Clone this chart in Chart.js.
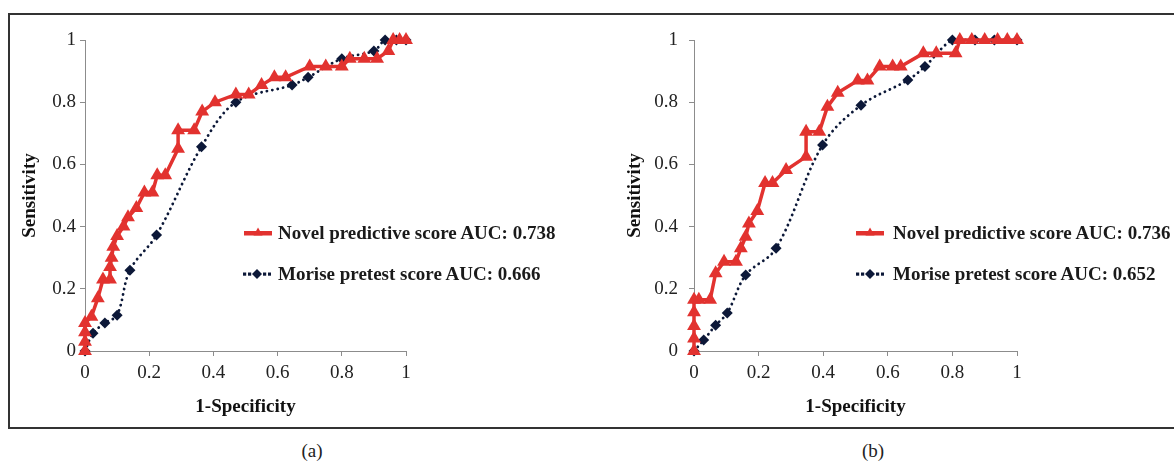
<!DOCTYPE html>
<html>
<head>
<meta charset="utf-8">
<script src="https://cdn.jsdelivr.net/npm/chart.js@4.4.1/dist/chart.umd.min.js"></script>
<style>
  body { margin: 0; background: #fff; font-family: "Liberation Serif", serif; }
  #wrap { position: relative; width: 1174px; height: 462px; overflow: hidden; }
  #frame { position: absolute; left: 8px; top: 13px; width: 1200px; height: 412px; border: 2px solid #333; }
  canvas { position: absolute; top: 0; }
  .cap { position: absolute; top: 440px; font-size: 19px; color: #222; width: 40px; text-align: center; margin-left: -20px; }
  .leg { position: absolute; font-weight: bold; font-size: 19px; line-height: 22px; color: #1a1a1a; white-space: nowrap; }
  .smp { position: absolute; width: 28px; height: 14px; }
</style>
</head>
<body>
<div id="wrap">
  <div id="frame"></div>
  <canvas id="chartA" width="580" height="440" style="left:0px"></canvas>
  <canvas id="chartB" width="564" height="440" style="left:610px"></canvas>

  <canvas class="smp" id="smpA1" width="28" height="14" style="left:244px;top:226px"></canvas>
  <div class="leg" style="left:278px;top:222px">Novel predictive score AUC: 0.738</div>
  <canvas class="smp" id="smpA2" width="28" height="14" style="left:243px;top:267px"></canvas>
  <div class="leg" style="left:278px;top:263px">Morise pretest score AUC: 0.666</div>

  <canvas class="smp" id="smpB1" width="28" height="14" style="left:856px;top:226px"></canvas>
  <div class="leg" style="left:893px;top:222px">Novel predictive score AUC: 0.736</div>
  <canvas class="smp" id="smpB2" width="28" height="14" style="left:856px;top:267px"></canvas>
  <div class="leg" style="left:893px;top:263px">Morise pretest score AUC: 0.652</div>

  <div class="cap" style="left:312px">(a)</div>
  <div class="cap" style="left:873px">(b)</div>
</div>

<script>
// ---- data ----
const ticks = [0, 0.2, 0.4, 0.6, 0.8, 1];

// panel (a)
const novelA_x = [0, 0, 0, 0, 0.02, 0.04, 0.056, 0.078, 0.078, 0.083, 0.088, 0.10, 0.12, 0.134, 0.16, 0.185, 0.21, 0.225, 0.25, 0.29, 0.29, 0.34, 0.365, 0.405, 0.47, 0.51, 0.55, 0.59, 0.625, 0.70, 0.75, 0.80, 0.825, 0.87, 0.91, 0.945, 0.96, 0.98, 1];
const novelA_y = [0, 0.03, 0.06, 0.09, 0.11, 0.17, 0.23, 0.23, 0.27, 0.30, 0.335, 0.37, 0.40, 0.43, 0.46, 0.51, 0.51, 0.565, 0.565, 0.65, 0.71, 0.71, 0.77, 0.80, 0.825, 0.825, 0.855, 0.88, 0.88, 0.915, 0.915, 0.915, 0.94, 0.94, 0.94, 0.965, 1, 1, 1];
const moriseA_x = [0, 0.025, 0.062, 0.10, 0.14, 0.223, 0.363, 0.47, 0.645, 0.695, 0.80, 0.90, 0.935, 0.97, 1];
const moriseA_y = [0, 0.057, 0.09, 0.115, 0.26, 0.373, 0.657, 0.80, 0.855, 0.88, 0.94, 0.965, 1, 1, 1];

// panel (b)
const novelB_x = [0, 0, 0, 0, 0, 0.015, 0.05, 0.067, 0.093, 0.13, 0.145, 0.16, 0.17, 0.196, 0.22, 0.243, 0.285, 0.347, 0.347, 0.388, 0.413, 0.445, 0.507, 0.537, 0.575, 0.615, 0.64, 0.71, 0.75, 0.81, 0.823, 0.86, 0.90, 0.94, 0.97, 1];
const novelB_y = [0, 0.04, 0.08, 0.125, 0.165, 0.165, 0.165, 0.25, 0.287, 0.287, 0.33, 0.367, 0.41, 0.45, 0.54, 0.54, 0.582, 0.625, 0.705, 0.705, 0.785, 0.83, 0.87, 0.87, 0.915, 0.915, 0.915, 0.957, 0.957, 0.957, 1, 1, 1, 1, 1, 1];
const moriseB_x = [0, 0.03, 0.067, 0.103, 0.16, 0.254, 0.398, 0.517, 0.662, 0.715, 0.80, 0.87, 0.93, 1];
const moriseB_y = [0, 0.035, 0.083, 0.122, 0.244, 0.33, 0.662, 0.79, 0.871, 0.915, 1, 1, 1, 1];

const RED = '#e2322f';
const NAVY = '#0c1838';
const AXIS = '#8c8c8c';
const FONT = '"Liberation Serif", "Times New Roman", serif';

function zip(xs, ys) {
    return xs.map((x, i) => ({ x: x, y: ys[i] }));
}

function novelSet(xs, ys) {
    return {
        data: zip(xs, ys),
        borderColor: RED,
        backgroundColor: RED,
        borderWidth: 3.5,
        pointStyle: 'triangle',
        pointRadius: 8,
        pointBorderWidth: 0,
        tension: 0,
        order: 1
    };
}

function moriseSet(xs, ys) {
    return {
        data: zip(xs, ys),
        borderColor: NAVY,
        backgroundColor: NAVY,
        borderWidth: 2.8,
        borderDash: [0.1, 5.4],
        borderCapStyle: 'round',
        pointStyle: 'rectRot',
        pointRadius: 5.5,
        pointBorderWidth: 0,
        tension: 0.35,
        order: 2
    };
}

function axisOpts(title, isY, boxSize, labelPad, titlePad) {
    return {
        type: 'linear',
        min: 0,
        max: 1,
        afterBuildTicks: s => { s.ticks = ticks.map(v => ({ value: v })); },
        afterFit: s => { if (isY) s.width = boxSize; else s.height = boxSize; },
        border: { display: true, color: AXIS, width: 1 },
        grid: { drawOnChartArea: false, drawTicks: true, tickLength: 5, color: AXIS },
        ticks: {
            padding: labelPad,
            color: '#222',
            font: { family: FONT, size: 19 },
            maxRotation: 0,
            callback: v => String(Math.round(v * 10) / 10)
        },
        title: {
            display: true,
            text: title,
            color: '#111',
            font: { family: FONT, size: 19, weight: 'bold' },
            padding: titlePad
        }
    };
}

function makeChart(id, novel, morise, yBox, yLabelPad, yTitlePad, padRight) {
    return new Chart(document.getElementById(id), {
        type: 'scatter',
        data: { datasets: [novel, morise] },
        options: {
            responsive: false,
            animation: false,
            showLine: true,
            clip: false,
            layout: { padding: { left: 0, top: 40, right: padRight, bottom: 20 } },
            plugins: { legend: { display: false }, tooltip: { enabled: false } },
            scales: {
                x: axisOpts('1-Specificity', false, 69, 6, { top: 0, bottom: 1.5 }),
                y: axisOpts('Sensitivity', true, yBox, yLabelPad, { top: yTitlePad, bottom: 0 })
            }
        }
    });
}

makeChart('chartA', novelSet(novelA_x, novelA_y), moriseSet(moriseA_x, moriseA_y), 85, 4, 18.5, 174);
makeChart('chartB', novelSet(novelB_x, novelB_y), moriseSet(moriseB_x, moriseB_y), 84, 11, 13.5, 157);

// legend samples
function drawSample(id, type) {
    const ctx = document.getElementById(id).getContext('2d');
    if (type === 'novel') {
        ctx.fillStyle = RED;
        ctx.fillRect(0, 5, 28, 4.5);
        ctx.beginPath();
        ctx.moveTo(14, 1.5); ctx.lineTo(18.5, 9.5); ctx.lineTo(9.5, 9.5); ctx.closePath();
        ctx.fill();
    } else {
        ctx.fillStyle = NAVY;
        [1.5, 6.5, 21.5, 26.5].forEach(x => ctx.fillRect(x - 1.5, 5.5, 3.2, 3.2));
        ctx.beginPath();
        ctx.moveTo(14, 2); ctx.lineTo(19, 7); ctx.lineTo(14, 12); ctx.lineTo(9, 7); ctx.closePath();
        ctx.fill();
    }
}
drawSample('smpA1', 'novel');
drawSample('smpA2', 'morise');
drawSample('smpB1', 'novel');
drawSample('smpB2', 'morise');
</script>
</body>
</html>
